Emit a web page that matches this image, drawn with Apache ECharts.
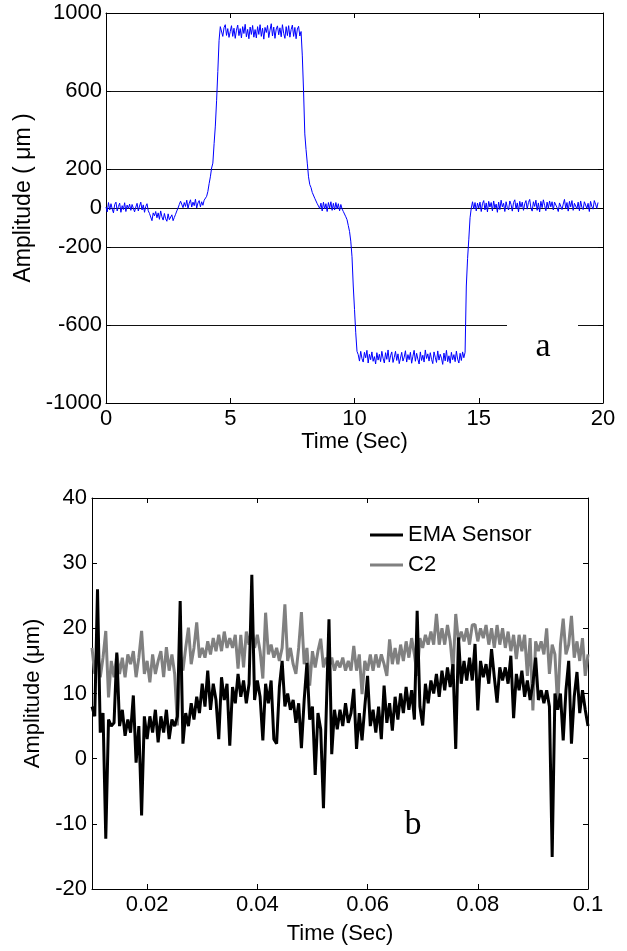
<!DOCTYPE html>
<html>
<head>
<meta charset="utf-8">
<script src="https://cdn.jsdelivr.net/npm/echarts@6/dist/echarts.min.js"></script>
<style>
html,body{margin:0;padding:0;background:#fff;}
#chart{width:627px;height:951px;}
</style>
</head>
<body>
<div id="chart"></div>
<script>
// ---------- Panel a: displacement vs time (sampled every 0.05 s from t = 0) ----------
const stepA = 0.05;
const ampA = [
  5, -20, 28, -10, 22, -5, -25, 18, 30, -15, 8, 25, -22, 12, -8, 27, -18, 15, -3, 20,
  -12, 18, 26, -20, 5, 24, -15, 10, 30, -10, 16, -22, 8, 22, -14, -28, -30, -65, -25, -40,
  -18, -50, -25, -58, -15, -45, -62, -28, -55, -68, -30, -60, -70, -35, -65, -48, -32, -15, 0, 18,
  35, 45, 2, 28, 8, 40, -2, 25, 42, 5, 30, 12, 45, 0, 26, 38, 6, 32, 14, 40,
  30, 60, 85, 125, 160, 205, 230, 330, 420, 550, 700, 860, 930, 935, 880, 925, 940, 885, 920, 875,
  905, 935, 880, 922, 870, 912, 938, 884, 920, 872, 930, 895, 942, 878, 916, 868, 928, 890, 936, 876,
  915, 872, 930, 890, 940, 880, 922, 866, 926, 900, 936, 874, 912, 945, 882, 928, 870, 918, 934, 888,
  924, 878, 940, 896, 870, 930, 884, 935, 876, 915, 938, 880, 926, 868, 918, 932, 882, 905,
  780, 600, 380, 300, 230, 160, 120, 105, 80, 75, 50, 45, 22, 25, -2, 25, -15, 30, -5, 22, -18, 28,
  0, 32, -12, 24, -10, 28, -5, 22, -14, 18, -5, -18, -25, -45, -60, -90, -120, -170, -250, -400,
  -520, -640, -735, -752, -785, -735, -772, -790, -740, -768, -730, -795, -750, -778, -738, -786, -762, -800, -742, -780,
  -750, -788, -735, -770, -795, -742, -776, -728, -790, -758, -738, -792, -766, -735, -782, -748, -798, -770, -740, -785,
  -765, -732, -790, -752, -778, -740, -796, -760, -730, -786, -745, -775, -800, -738, -782, -755, -790, -728, -772, -748,
  -785, -742, -776, -798, -738, -765, -792, -733, -780, -750, -770, -802, -744, -784, -730, -788, -758, -796, -740, -778,
  -752, -788, -734, -775, -795, -745, -782, -738, -768,
  -740, -400, -260, -160, -50, 0, 32, -5, 28, -15, 25,
  0, 30, -18, 22, 38, -10, 26, -20, 34, 5, 28, -15, 36, 0, 20, -22, 30, -8, 40, 6,
  24, -18, 32, 2, -10, 36, 18, -16, 28, 42, -5, 26, -20, 34, 4, 30, -12, 22, 38, -6,
  28, 44, 0, -16, 32, 8, 40, -12, 26, -20, 34, 2, 42, 14, -14, 30, -2, 36, 6, 32,
  -10, 30, 40, 2, -18, 26, 36, -8, 20, 44, -2, 28, -16, 34, 6, 38, -12, 24, 34, -4,
  30, -14, 36, 4, -8, 32, 42, -2, 24, -18, 34, 8, -6, 38, 20, -2, 28
];
const xTicksA = [0, 5, 10, 15, 20];
const yTicksA = [-1000, -600, -200, 0, 200, 600, 1000];

// ---------- Panel b: EMA sensor vs C2 (sampled every 0.0005 s from t = 0.01) ----------
const t0B = 0.01;
const stepB = 0.0005;
const emaVals = [
  8, 6.5, 26, 4, 7, -12.3, 6, 5, 5.5, 16.3,
  5, 7.5, 3.5, 6, 4, 9.7, -0.6, 5, -8.7, 6.5,
  3, 6.5, 4, 7.5, 2.5, 6.5, 4, 7.5, 3, 6,
  5, 6.5, 24.2, 2.3, 7, 5, 8.5, 6, 9.5, 7,
  11.5, 8, 13.5, 7.5, 11.5, 9, 3, 12.5, 9, 11.5,
  2, 11, 8.5, 13, 9.5, 12, 8.5, 11.5, 28.2, 9,
  12, 9.5, 2.8, 11.5, 8.5, 12, 3, 2.3, 11, 15,
  8, 10, 7.5, 9, 5.5, 8.5, 1.6, 9, 14.7, 6,
  8, -2.5, 7, 4.5, -7.6, 7, 21.4, 0.7, 7.5, 4.5,
  7.5, 5, 8.5, 5.5, 7, 10.7, 1.5, 7, 2.8, 8,
  12.7, 5, 7.5, 4, 8, 3, 11.2, 5.5, 8.5, 4.3,
  9.5, 6, 10, 7, 11, 7.5, 10.5, 6, 22.7, 8,
  5.1, 11.5, 8.5, 12, 10, 13, 9.5, 13.5, 10.5, 14,
  11, 14.5, 1.5, 18.6, 11.5, 15, 12, 15.5, 12, 17.6,
  7.4, 15, 12.5, 14.5, 11.5, 16.8, 12.5, 8.6, 14, 12,
  14, 11.5, 15.8, 6.2, 13, 10.5, 13.5, 9.5, 12, 9,
  11.5, 15.5, 9, 10.5, 8.5, 10.5, 8, -15.1, 10, 7.5,
  10, 2.8, 10.5, 15, 2.3, 9.5, 13.3, 7, 10.5, 7.5, 5
];
const c2Vals = [
  17, 13, 16.5, 12.5, 15.5, 19.6, 9.4, 15, 12.5, 16,
  13, 15.5, 12.5, 16, 14.5, 16.5, 12.5, 15.5, 19.6, 13,
  15, 11.7, 16, 13, 15, 16.5, 12.5, 17.1, 13.5, 16,
  13, 5.1, 16, 13.5, 17, 20.1, 14.5, 17, 20.9, 15.5,
  17, 15.5, 18, 16, 18.5, 16.5, 19, 16.5, 19.5, 17,
  18.5, 17, 19, 13.8, 19, 14, 19.5, 17.5, 20, 17,
  19, 16.5, 12.3, 22.4, 16, 17.5, 15.5, 17, 15, 17,
  23.7, 15, 17, 14.5, 13, 17, 22.5, 14.5, 17, 11.2,
  16.5, 14, 16.5, 18.4, 14, 15.5, 14, 15.5, 13.5, 15,
  14, 15.5, 13.5, 15, 13.5, 17.3, 13.5, 16, 9.9, 15,
  13.5, 16, 13.5, 16, 14, 16, 14.5, 12.7, 18.3, 14.5,
  17, 14.5, 17.5, 15, 18, 15.5, 18.5, 16, 12.7, 18.5,
  17, 19, 17.5, 19.5, 17.5, 22.2, 17.5, 20, 17.5, 20.5,
  18, 13.4, 22.2, 18, 19.5, 18, 20, 17.5, 20.5, 20.6,
  18, 20, 18.5, 20.5, 17.5, 20, 17, 20.5, 17.5, 20,
  17, 19.5, 16.5, 19, 15.3, 19, 16.5, 19, 12.7, 18.5,
  7.4, 18, 16.5, 18, 16, 20, 13, 17.5, 16, 7.9,
  17.5, 21.5, 16, 17.5, 21.9, 15.5, 18, 15, 18.5, 12.7, 16
];
const xTicksB = [0.02, 0.04, 0.06, 0.08, 0.1];
const yTicksB = [-20, -10, 0, 10, 20, 30, 40];
const seriesNamesB = ['EMA Sensor', 'C2'];

// ---------- build ----------
const FONT = 'Liberation Sans, Arial, Helvetica, sans-serif';
const SERIF = 'Liberation Serif, Times New Roman, serif';
const dataA = ampA.map((v, i) => [+(i * stepA).toFixed(4), v]);
const dataEma = emaVals.map((v, i) => [+(t0B + i * stepB).toFixed(5), v]);
const dataC2 = c2Vals.map((v, i) => [+(t0B + i * stepB).toFixed(5), v]);

const black = '#000';
const plain = v => String(v);

const chart = echarts.init(document.getElementById('chart'), null, {renderer: 'canvas'});
const lbl = {fontSize: 22, color: black, fontFamily: FONT};

const option = {
  animation: false,
  backgroundColor: '#fff',
  grid: [
    {left: 106, top: 13, width: 497, height: 390},
    {left: 92, top: 498, width: 496, height: 391}
  ],
  xAxis: [
    {gridIndex: 0, type: 'value', min: 0, max: 20, position: 'bottom',
     axisLine: {show: true, onZero: false, lineStyle: {color: black, width: 1}},
     axisTick: {show: true, inside: true, length: 5, customValues: xTicksA, lineStyle: {color: black}},
     axisLabel: Object.assign({customValues: xTicksA, margin: 5, formatter: plain}, lbl),
     splitLine: {show: false},
     name: 'Time (Sec)', nameLocation: 'middle', nameGap: 27,
     nameTextStyle: Object.assign({}, lbl)},
    {gridIndex: 0, type: 'value', min: 0, max: 20, position: 'top',
     axisLine: {show: true, onZero: false, lineStyle: {color: black, width: 1}},
     axisTick: {show: true, inside: true, length: 5, customValues: xTicksA, lineStyle: {color: black}},
     axisLabel: {show: false}, splitLine: {show: false}},
    {gridIndex: 1, type: 'value', min: 0.01, max: 0.1, position: 'bottom',
     axisLine: {show: true, onZero: false, lineStyle: {color: black, width: 1}},
     axisTick: {show: true, inside: true, length: 5, customValues: xTicksB, lineStyle: {color: black}},
     axisLabel: Object.assign({customValues: xTicksB, margin: 5, formatter: plain}, lbl),
     splitLine: {show: false},
     name: 'Time (Sec)', nameLocation: 'middle', nameGap: 34,
     nameTextStyle: Object.assign({}, lbl)},
    {gridIndex: 1, type: 'value', min: 0.01, max: 0.1, position: 'top',
     axisLine: {show: true, onZero: false, lineStyle: {color: black, width: 1}},
     axisTick: {show: true, inside: true, length: 5, customValues: xTicksB, lineStyle: {color: black}},
     axisLabel: {show: false}, splitLine: {show: false}}
  ],
  yAxis: [
    {gridIndex: 0, type: 'value', min: -1000, max: 1000, position: 'left',
     axisLine: {show: true, onZero: false, lineStyle: {color: black, width: 1}},
     axisTick: {show: true, inside: true, length: 5, customValues: yTicksA, lineStyle: {color: black}},
     axisLabel: Object.assign({customValues: yTicksA, margin: 4, formatter: plain}, lbl),
     splitLine: {show: true, lineStyle: {color: '#111', width: 1}},
     name: 'Amplitude ( μm )', nameLocation: 'middle', nameGap: 62,
     nameTextStyle: Object.assign({padding: [0, 0, 0, 20]}, lbl, {fontSize: 23})},
    {gridIndex: 0, type: 'value', min: -1000, max: 1000, position: 'right',
     axisLine: {show: true, onZero: false, lineStyle: {color: black, width: 1}},
     axisTick: {show: true, inside: true, length: 5, customValues: yTicksA, lineStyle: {color: black}},
     axisLabel: {show: false}, splitLine: {show: false}},
    {gridIndex: 1, type: 'value', min: -20, max: 40, position: 'left',
     axisLine: {show: true, onZero: false, lineStyle: {color: black, width: 1}},
     axisTick: {show: true, inside: true, length: 5, customValues: yTicksB, lineStyle: {color: black}},
     axisLabel: Object.assign({customValues: yTicksB, margin: 5, formatter: plain}, lbl),
     splitLine: {show: false},
     name: 'Amplitude (μm)', nameLocation: 'middle', nameGap: 47,
     nameTextStyle: Object.assign({}, lbl)},
    {gridIndex: 1, type: 'value', min: -20, max: 40, position: 'right',
     axisLine: {show: true, onZero: false, lineStyle: {color: black, width: 1}},
     axisTick: {show: true, inside: true, length: 5, customValues: yTicksB, lineStyle: {color: black}},
     axisLabel: {show: false}, splitLine: {show: false}}
  ],
  legend: {
    data: seriesNamesB, orient: 'vertical', left: 370, top: 524, padding: 0,
    icon: 'rect', itemWidth: 33, itemHeight: 3, itemGap: 8,
    textStyle: {fontSize: 22, color: black, fontFamily: FONT, padding: [0, 0, 0, 0]},
    selectedMode: false
  },
  series: [
    {type: 'line', name: 'a', xAxisIndex: 0, yAxisIndex: 0, data: dataA,
     symbol: 'none', lineStyle: {color: '#0000ff', width: 1}, itemStyle: {color: '#0000ff'}, z: 3},
    {type: 'line', name: seriesNamesB[0], xAxisIndex: 2, yAxisIndex: 2, data: dataEma,
     symbol: 'none', lineStyle: {color: '#000000', width: 3}, itemStyle: {color: '#000000'}, z: 3},
    {type: 'line', name: seriesNamesB[1], xAxisIndex: 2, yAxisIndex: 2, data: dataC2,
     symbol: 'none', lineStyle: {color: '#808080', width: 3}, itemStyle: {color: '#808080'}, z: 2}
  ],
  graphic: [
    {type: 'rect', left: 507, top: 318, shape: {width: 71, height: 60}, style: {fill: '#fff'}, z: 10},
    {type: 'text', x: 543, y: 347, z: 11,
     style: {text: 'a', font: '34px ' + SERIF, fill: black, align: 'center', verticalAlign: 'middle'}},
    {type: 'text', x: 413, y: 825, z: 11,
     style: {text: 'b', font: '34px ' + SERIF, fill: black, align: 'center', verticalAlign: 'middle'}}
  ]
};
chart.setOption(option);
</script>
</body>
</html>
